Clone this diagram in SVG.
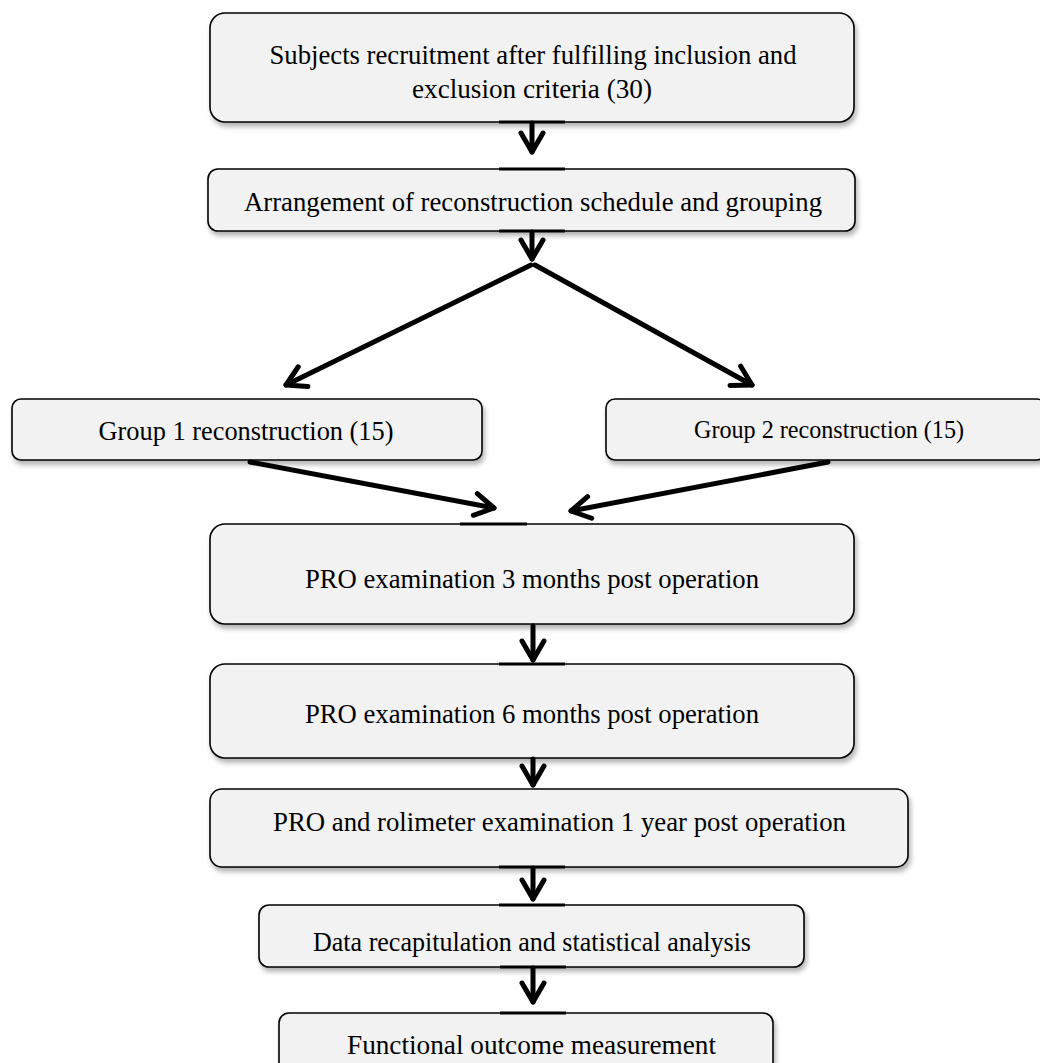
<svg xmlns="http://www.w3.org/2000/svg" width="1040" height="1063" viewBox="0 0 1040 1063">
<style>
.box{fill:#f2f2f2;stroke:#000;stroke-width:1.6;filter:url(#sh)}
.t{font-family:"Liberation Serif","Times New Roman",serif;font-size:27px;fill:#000;text-anchor:middle}
.c{fill:none;stroke:#000;stroke-width:5;stroke-linecap:round;stroke-linejoin:round}
.seg{stroke:#000;stroke-width:3}
</style>
<defs>
<filter id="sh" x="-5%" y="-10%" width="115%" height="140%">
<feDropShadow dx="2" dy="4" stdDeviation="2.5" flood-color="#000" flood-opacity="0.3"/>
</filter>
<marker id="ah" markerUnits="userSpaceOnUse" viewBox="-26 -14 30 28" refX="0" refY="0" markerWidth="30" markerHeight="28" orient="auto">
<path d="M-19,-11 L0,0 L-19,11" fill="none" stroke="#000" stroke-width="5" stroke-linecap="round" stroke-linejoin="round"/>
</marker>
</defs>
<rect width="1040" height="1063" fill="#fff"/>
<g id="n1"><rect class="box" x="210" y="13" width="644" height="109" rx="15"/>
<text class="t" x="533" y="64" textLength="527" lengthAdjust="spacingAndGlyphs">Subjects recruitment after fulfilling inclusion and</text>
<text class="t" x="532" y="98" textLength="240" lengthAdjust="spacingAndGlyphs">exclusion criteria (30)</text></g>
<g id="n2"><rect class="box" x="208" y="169" width="647" height="62" rx="10"/>
<text class="t" x="533" y="211" textLength="578" lengthAdjust="spacingAndGlyphs">Arrangement of reconstruction schedule and grouping</text></g>
<g id="n3"><rect class="box" x="12" y="399" width="470" height="61" rx="9"/>
<text class="t" x="246" y="440" textLength="295" lengthAdjust="spacingAndGlyphs">Group 1 reconstruction (15)</text></g>
<g id="n4"><rect class="box" x="606" y="399" width="440" height="61" rx="9"/>
<text class="t" x="829" y="438" style="font-size:25px" textLength="270" lengthAdjust="spacingAndGlyphs">Group 2 reconstruction (15)</text></g>
<g id="n5"><rect class="box" x="210" y="524" width="644" height="100" rx="15"/>
<text class="t" x="532" y="588" textLength="454" lengthAdjust="spacingAndGlyphs">PRO examination 3 months post operation</text></g>
<g id="n6"><rect class="box" x="210" y="664" width="644" height="94" rx="15"/>
<text class="t" x="532" y="723" textLength="454" lengthAdjust="spacingAndGlyphs">PRO examination 6 months post operation</text></g>
<g id="n7"><rect class="box" x="210" y="789" width="698" height="78" rx="12"/>
<text class="t" x="559.5" y="831" textLength="573" lengthAdjust="spacingAndGlyphs">PRO and rolimeter examination 1 year post operation</text></g>
<g id="n8"><rect class="box" x="259" y="905" width="545" height="62" rx="10"/>
<text class="t" x="532" y="951" textLength="438" lengthAdjust="spacingAndGlyphs">Data recapitulation and statistical analysis</text></g>
<g id="n9"><rect class="box" x="279" y="1013" width="494" height="70" rx="10"/>
<text class="t" x="531.5" y="1054" textLength="369" lengthAdjust="spacingAndGlyphs">Functional outcome measurement</text></g>
<g id="connectors">
<line class="seg" x1="499" y1="122" x2="565" y2="122"/>
<line class="seg" x1="499" y1="169" x2="565" y2="169"/>
<line class="seg" x1="499" y1="231" x2="565" y2="231"/>
<line class="seg" x1="460" y1="524" x2="527" y2="524"/>
<line class="seg" x1="499" y1="664" x2="565" y2="664"/>
<line class="seg" x1="499" y1="867" x2="565" y2="867"/>
<line class="seg" x1="499" y1="905" x2="565" y2="905"/>
<line class="seg" x1="500" y1="967" x2="566" y2="967"/>
<line class="seg" x1="500" y1="1013" x2="566" y2="1013"/>
<line class="c" x1="532" y1="123" x2="532" y2="152" marker-end="url(#ah)"/>
<line class="c" x1="532" y1="232" x2="532" y2="259" marker-end="url(#ah)"/>
<line class="c" x1="531" y1="265" x2="286" y2="385" marker-end="url(#ah)"/>
<line class="c" x1="535" y1="265" x2="752" y2="385" marker-end="url(#ah)"/>
<line class="c" x1="250" y1="462" x2="494" y2="508" marker-end="url(#ah)"/>
<line class="c" x1="828" y1="462" x2="571" y2="511" marker-end="url(#ah)"/>
<line class="c" x1="533" y1="626" x2="533" y2="660" marker-end="url(#ah)"/>
<line class="c" x1="533" y1="759" x2="533" y2="785" marker-end="url(#ah)"/>
<line class="c" x1="533" y1="868" x2="533" y2="899" marker-end="url(#ah)"/>
<line class="c" x1="533" y1="968" x2="533" y2="1002" marker-end="url(#ah)"/>
</g>
</svg>
